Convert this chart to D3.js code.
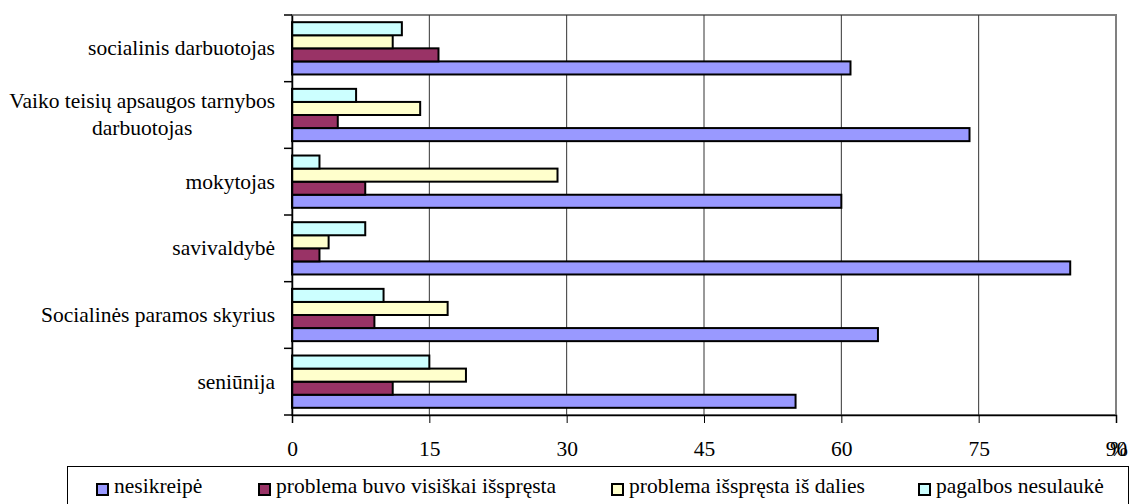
<!DOCTYPE html>
<html><head><meta charset="utf-8">
<script src="https://cdn.jsdelivr.net/npm/d3@7"></script>
<style>
body{margin:0;background:#fff;}
svg text{font-family:"Liberation Serif","Times New Roman","DejaVu Serif",serif !important;fill:#000;}
</style></head>
<body><svg id="c" width="1130" height="504"></svg>
<script>
const categories = ["socialinis darbuotojas", "Vaiko teisių apsaugos tarnybos|darbuotojas", "mokytojas", "savivaldybė", "Socialinės paramos skyrius", "seniūnija"];
const seriesNames = ["nesikreipė", "problema buvo visiškai išspręsta", "problema išspręsta iš dalies", "pagalbos nesulaukė"];
const nesikreipe = [61, 74, 60, 85, 64, 55];
const visiskai = [16, 5, 8, 3, 9, 11];
const isDalies = [11, 14, 29, 4, 17, 19];
const nesulauke = [12, 7, 3, 8, 10, 15];
const xTicks = [0, 15, 30, 45, 60, 75, 90];
const colors = ["#9999FF", "#993366", "#FFFFCC", "#CCFFFF"];

const FONT = "Liberation Serif, Times New Roman, serif";
const seriesValues = [nesikreipe, visiskai, isDalies, nesulauke];
const svg = d3.select("#c");
const L = 292, R = 1116, T = 15, B = 415;
const fs = 21.5;
const x = d3.scaleLinear().domain([0, 90]).range([L, R]);
const y = d3.scaleBand().domain(categories).range([T, B]);
const inner = d3.scaleBand().domain([3, 2, 1, 0]).range([0, y.bandwidth()]).paddingOuter(0.55);

// plot frame
svg.append("rect").attr("x", L).attr("y", T).attr("width", R - L).attr("height", B - T)
  .attr("fill", "#fff").attr("stroke", "#808080").attr("stroke-width", 2);

// gridlines
svg.append("g").selectAll("line").data(xTicks.slice(1, -1)).join("line")
  .attr("x1", d => x(d)).attr("x2", d => x(d)).attr("y1", T).attr("y2", B)
  .attr("stroke", "#333").attr("stroke-width", 1);

// bars
seriesValues.forEach((vals, si) => {
  svg.append("g").selectAll("rect").data(vals).join("rect")
    .attr("x", x(0))
    .attr("y", (d, i) => y(categories[i]) + inner(si))
    .attr("width", d => x(d) - x(0))
    .attr("height", inner.bandwidth())
    .attr("fill", colors[si]).attr("stroke", "#000").attr("stroke-width", 2);
});

// x axis
const xAxis = svg.append("g").attr("transform", `translate(0,${B})`)
  .call(d3.axisBottom(x).tickValues(xTicks).tickSize(8).tickPadding(18).tickFormat(d3.format("d")));
xAxis.attr("font-family", FONT).attr("font-size", fs);
xAxis.select(".domain").attr("stroke", "#000").attr("stroke-width", 1.5);
xAxis.selectAll("text").attr("font-size", fs).attr("font-family", FONT);
svg.append("text").attr("x", R - 6).attr("y", 456).attr("font-size", fs).attr("font-family", FONT).text("%");

// y axis
const yAxis = svg.append("g").attr("transform", `translate(${L},0)`)
  .call(d3.axisLeft(y).tickSize(0).tickFormat(""));
yAxis.select(".domain").attr("stroke", "#000").attr("stroke-width", 1.5);
svg.append("g").selectAll("line").data(d3.range(categories.length + 1)).join("line")
  .attr("x1", L - 8).attr("x2", L)
  .attr("y1", i => T + i * y.step()).attr("y2", i => T + i * y.step())
  .attr("stroke", "#000").attr("stroke-width", 1.5);

// category labels
categories.forEach(c => {
  const parts = c.split("|");
  const cy = y(c) + y.bandwidth() / 2;
  if (parts.length === 1) {
    svg.append("text").attr("x", 275).attr("y", cy + 7).attr("text-anchor", "end")
      .attr("font-size", fs).attr("font-family", FONT).text(parts[0]);
  } else {
    const t1 = svg.append("text").attr("x", 275).attr("y", cy - 7).attr("text-anchor", "end")
      .attr("font-size", fs).attr("font-family", FONT).text(parts[0]);
    const w = t1.node().getComputedTextLength();
    svg.append("text").attr("x", 275 - w / 2).attr("y", cy + 20).attr("text-anchor", "middle")
      .attr("font-size", fs).attr("font-family", FONT).text(parts[1]);
  }
});

// legend
svg.append("rect").attr("x", 67.5).attr("y", 466.5).attr("width", 1061).attr("height", 50)
  .attr("fill", "#fff").attr("stroke", "#000").attr("stroke-width", 1);
const legX = [97, 259, 612, 919];
seriesNames.forEach((n, i) => {
  svg.append("rect").attr("x", legX[i]).attr("y", 484).attr("width", 11).attr("height", 11)
    .attr("fill", colors[i]).attr("stroke", "#000").attr("stroke-width", 2);
  svg.append("text").attr("x", legX[i] + 17).attr("y", 493).attr("font-size", fs).attr("font-family", FONT).text(n);
});
</script></body></html>
